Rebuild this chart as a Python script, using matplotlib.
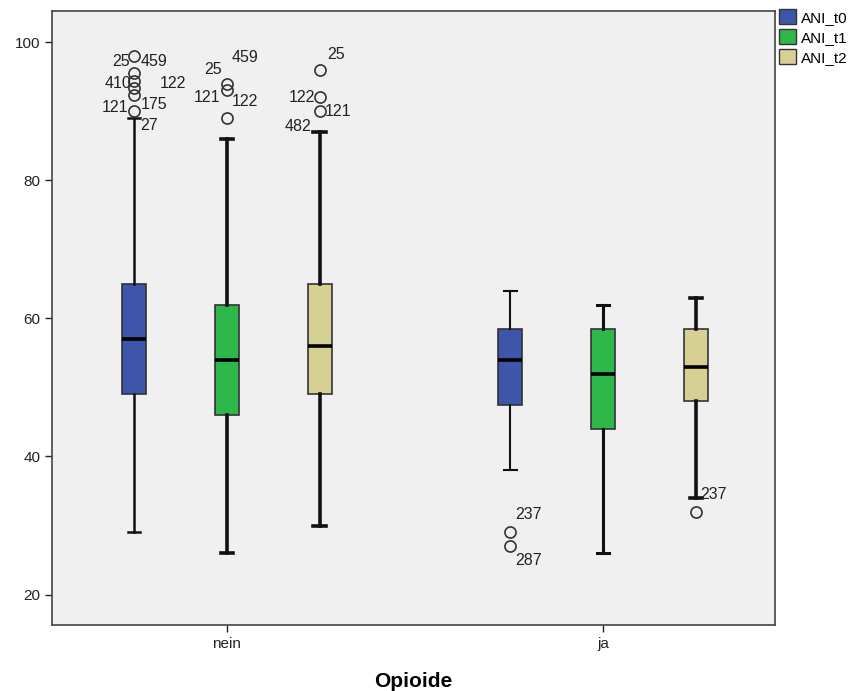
import matplotlib.pyplot as plt

plt.rcParams['font.family'] = ['Liberation Sans', 'DejaVu Sans']

# ANI score by opioid use, three time points
groups = ['nein', 'ja']
series = ['ANI_t0', 'ANI_t1', 'ANI_t2']
colors = ['#3d56a9', '#2eb84b', '#d7d095']

# five-number summaries per group and series: [whislo, q1, med, q3, whishi]
nein_stats = [
    [29, 49, 57, 65, 89],
    [26, 46, 54, 62, 86],
    [30, 49, 56, 65, 87],
]
ja_stats = [
    [38, 47.5, 54, 58.5, 64],
    [26, 44, 52, 58.5, 62],
    [34, 48, 53, 58.5, 63],
]
nein_fliers = [
    [98, 95.5, 94.3, 93.3, 92.3, 90],
    [94, 93, 89],
    [96, 92, 90],
]
ja_fliers = [
    [29, 27],
    [],
    [32],
]

# case labels: (group, series, anchor value, text, dx px, dy px, ha)
case_labels = [
    (0, 0, 98, '25', -4, -6, 'right'),
    (0, 0, 98, '459', 7, -6, 'left'),
    (0, 0, 94, '410', -3, 0, 'right'),
    (0, 0, 94, '122', 26, 0, 'left'),
    (0, 0, 90, '121', -6, 4, 'right'),
    (0, 0, 90, '175', 7, 7, 'left'),
    (0, 0, 89, '27', 6, -7, 'left'),
    (0, 1, 94, '25', -5, 14, 'right'),
    (0, 1, 94, '459', 5, 26, 'left'),
    (0, 1, 93, '121', -7, -7, 'right'),
    (0, 1, 93, '122', 5, -11, 'left'),
    (0, 2, 96, '25', 7, 15, 'left'),
    (0, 2, 92, '122', -5, 0, 'right'),
    (0, 2, 90, '121', 5, 0, 'left'),
    (0, 2, 87, '482', -8, 5, 'right'),
    (1, 0, 29, '237', 5, 18, 'left'),
    (1, 0, 27, '287', 5, -14, 'left'),
    (1, 2, 32, '237', 4, 17, 'left'),
]

# whisker thickness per box, nein then ja
whisker_lw = [[1.8, 2.6, 2.6], [1.5, 2.2, 2.6]]

group_pos = [1, 2]
offsets = [-0.247, 0, 0.247]
box_width = 0.064

fig = plt.figure(figsize=(8.56, 6.91), dpi=100)
ax = fig.add_axes([52 / 856, 1 - 625 / 691, (775 - 52) / 856, (625 - 11) / 691])
ax.set_facecolor('#f0f0f0')

all_stats = [nein_stats, ja_stats]
all_fliers = [nein_fliers, ja_fliers]
for g, gp in enumerate(group_pos):
    for s in range(len(series)):
        lo, q1, med, q3, hi = all_stats[g][s]
        st = dict(whislo=lo, q1=q1, med=med, q3=q3, whishi=hi, fliers=all_fliers[g][s])
        lw = whisker_lw[g][s]
        ax.bxp([st], positions=[gp + offsets[s]], widths=box_width,
               capwidths=0.034, patch_artist=True, showfliers=True,
               boxprops=dict(facecolor=colors[s], edgecolor='#333333', linewidth=1.2),
               medianprops=dict(color='black', linewidth=2.6),
               whiskerprops=dict(color='#111111', linewidth=lw),
               capprops=dict(color='#111111', linewidth=lw),
               flierprops=dict(marker='o', markerfacecolor='none',
                               markeredgecolor='#333333', markersize=8,
                               markeredgewidth=1.2))

for g, s, v, txt, dx, dy, ha in case_labels:
    ax.annotate(txt, xy=(group_pos[g] + offsets[s], v), xytext=(dx, dy),
                textcoords='offset pixels', ha=ha, va='center', fontsize=11.5,
                color='#222222')

ax.set_xlim(0.535, 2.457)
ax.set_ylim(15.6, 104.5)
ax.set_yticks([20, 40, 60, 80, 100])
ax.set_xticks(group_pos)
ax.set_xticklabels(groups)
ax.tick_params(axis='both', labelsize=11, colors='#222222', length=5, width=1)
ax.set_xlabel('Opioide', fontsize=15, fontweight='bold', labelpad=15)
for sp in ax.spines.values():
    sp.set_color('#444444')
    sp.set_linewidth(1.2)

handles = [plt.Rectangle((0, 0), 1, 1, facecolor=c, edgecolor='#333333') for c in colors]
fig.legend(handles, series, loc='upper left', bbox_to_anchor=(779 / 856, 1 - 9 / 691),
           frameon=False, fontsize=11, handlelength=1.1, handleheight=1.1,
           handletextpad=0.35, labelspacing=0.3, borderpad=0, borderaxespad=0)

fig.savefig('out.png', dpi=100, facecolor='white')
